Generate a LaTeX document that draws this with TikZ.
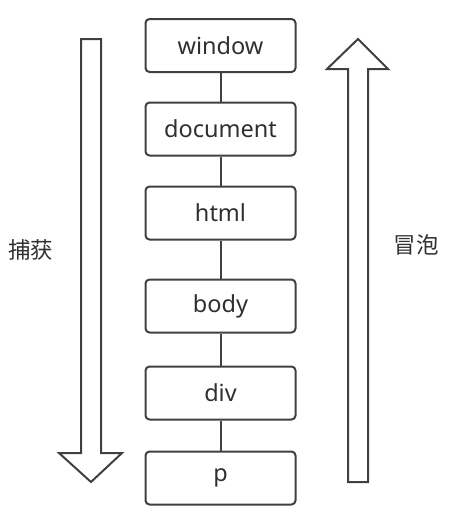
\documentclass[tikz,border=0pt]{standalone}
\usepackage{fontspec}
\setmainfont{Noto Sans}
\newfontfamily\cjk{Noto Sans CJK SC}
\definecolor{linec}{HTML}{404040}
\definecolor{textc}{HTML}{303030}
\begin{document}
\begin{tikzpicture}[x=1pt,y=-1pt,
  box/.style={draw=linec,line width=2pt,rounded corners=4pt,minimum width=150pt,minimum height=53pt,inner sep=0pt,text=textc,font=\fontsize{23.5}{26}\selectfont,fill=white},
  conn/.style={draw=linec,line width=2pt},
  bigarrow/.style={draw=linec,line width=2pt,line join=miter,fill=white},
  lbl/.style={text=textc,font=\cjk\fontsize{22.5}{26}\selectfont}]
\useasboundingbox (0,0) rectangle (448,515);
\node[box] (window) at (220.5,45.5) {window};
\node[box] (document) at (220.5,129) {document};
\node[box] (html) at (220.5,213) {html};
\node[box] (body) at (220.5,306) {body};
\node[box] (div) at (220.5,393) {div};
\node[box] (p) at (220.5,478) {p};
\draw[conn] (window) -- (document);
\draw[conn] (document) -- (html);
\draw[conn] (html) -- (body);
\draw[conn] (body) -- (div);
\draw[conn] (div) -- (p);
\draw[bigarrow] (81,39) -- (101,39) -- (101,453) -- (122,453) -- (91,482) -- (59,453) -- (81,453) -- cycle;
\draw[bigarrow] (348,482) -- (368,482) -- (368,69) -- (388,69) -- (358,39) -- (327,69) -- (348,69) -- cycle;
\node[lbl] (capture) at (31,250) {捕获};
\node[lbl] (bubble) at (416,245) {冒泡};
\end{tikzpicture}
\end{document}
